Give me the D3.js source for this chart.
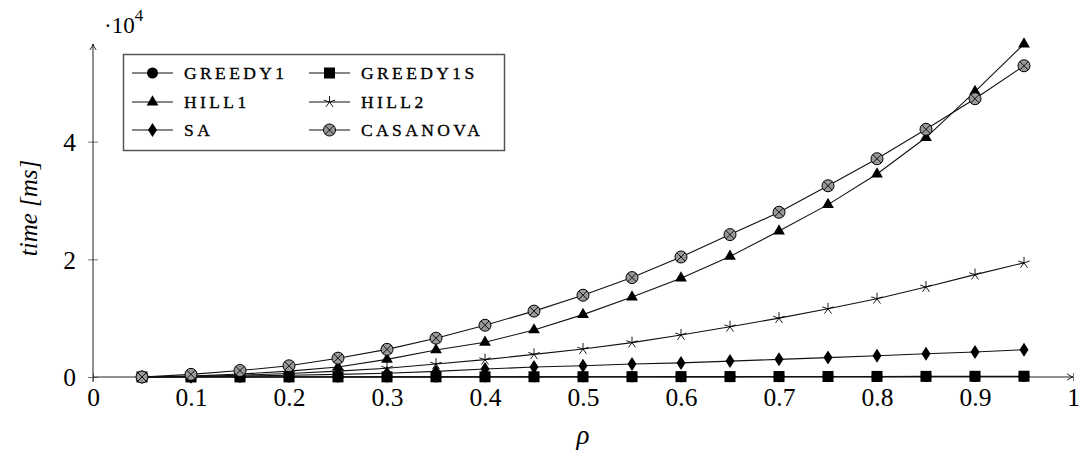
<!DOCTYPE html>
<html>
<head>
<meta charset="utf-8">
<script src="https://cdn.jsdelivr.net/npm/d3@7"></script>
<style>
  body { margin: 0; background: #fff; }
  svg text { font-family: "Liberation Serif", serif; }
  .tick text { font-size: 25.5px; fill: #000; }
  .legend-text { font-size: 17.5px; letter-spacing: 3.4px; stroke: #000; stroke-width: 0.35px; }
</style>
</head>
<body>
<div id="chart"></div>
<script>
// rho values (x) and running times in ms for each algorithm
const rho = [0.05, 0.1, 0.15, 0.2, 0.25, 0.3, 0.35, 0.4, 0.45, 0.5,
             0.55, 0.6, 0.65, 0.7, 0.75, 0.8, 0.85, 0.9, 0.95];

const greedy1  = [2, 4, 6, 9, 12, 15, 19, 23, 28, 33, 38, 44, 50, 56, 63, 70, 78, 86, 95];
const greedy1s = [3, 6, 9, 13, 17, 22, 27, 33, 39, 46, 53, 61, 69, 78, 87, 97, 107, 118, 130];
const hill1    = [0, 150, 500, 1000, 1700, 3000, 4600, 5900, 8000, 10600,
                  13600, 16800, 20500, 24800, 29300, 34500, 40700, 48500, 56600];
const hill2    = [0, 100, 300, 600, 1000, 1500, 2200, 2950, 3850, 4750,
                  5850, 7150, 8550, 10000, 11600, 13300, 15300, 17400, 19400];
const sa       = [0, 50, 150, 300, 450, 650, 950, 1350, 1700, 1900,
                  2200, 2400, 2700, 3000, 3300, 3600, 3950, 4250, 4650];
const casanova = [0, 450, 1100, 1900, 3200, 4700, 6600, 8800, 11200, 13900,
                  16900, 20400, 24200, 28000, 32500, 37100, 42100, 47300, 52900];

const seriesNames = ["GREEDY1", "GREEDY1S", "HILL1", "HILL2", "SA", "CASANOVA"];
const seriesValues = [greedy1, greedy1s, hill1, hill2, sa, casanova];
const seriesMarks = ["circle", "square", "triangle", "star", "diamond", "otimes"];

const xTicks = [0, 0.1, 0.2, 0.3, 0.4, 0.5, 0.6, 0.7, 0.8, 0.9, 1];
const yTicks = [0, 20000, 40000];

const width = 1083, height = 459;
const serif = "'Liberation Serif', serif";

const svg = d3.select("#chart").append("svg")
  .attr("width", width)
  .attr("height", height);

const x = d3.scaleLinear().domain([0, 1]).range([93, 1073]);
const yMax = d3.max(seriesValues.flat());
const y = d3.scaleLinear().domain([0, yMax]).range([377, 44]);

// axes (ticks + labels from d3, axis lines drawn separately with arrows)
const xAxis = d3.axisBottom(x).tickValues(xTicks)
  .tickFormat(d => d3.format("~g")(d)).tickSize(5).tickPadding(4);
const yAxis = d3.axisLeft(y).tickValues(yTicks)
  .tickFormat(d => d / 1e4).tickSize(5).tickPadding(10);

const gx = svg.append("g").attr("transform", "translate(0," + y(0) + ")").call(xAxis)
  .attr("font-family", serif);
gx.select(".domain").remove();
gx.selectAll(".tick line").attr("y1", -4).attr("y2", 4).attr("stroke", "#777");
gx.selectAll(".tick text").attr("y", 11).attr("dy", "0.71em");

const gy = svg.append("g").attr("transform", "translate(" + x(0) + ",0)").call(yAxis)
  .attr("font-family", serif);
gy.select(".domain").remove();
gy.selectAll(".tick line").attr("x1", -5).attr("x2", 5).attr("stroke", "#777");
gy.selectAll(".tick text").attr("x", -17).attr("dy", "0.35em");

// axis lines with arrows
function arrowHead(px, py, angle) {
  svg.append("path")
    .attr("d", "M-6,-3.2 Q-2.5,-0.5 0,0 Q-2.5,0.5 -6,3.2")
    .attr("fill", "none").attr("stroke", "#222").attr("stroke-width", 1)
    .attr("transform", "translate(" + px + "," + py + ") rotate(" + angle + ")");
}
svg.append("line")
  .attr("x1", x(0)).attr("x2", x(1)).attr("y1", y(0)).attr("y2", y(0))
  .attr("stroke", "#222").attr("stroke-width", 1);
arrowHead(x(1), y(0), 0);
svg.append("line")
  .attr("x1", x(0)).attr("x2", x(0)).attr("y1", y(0) + 5).attr("y2", y(yMax))
  .attr("stroke", "#222").attr("stroke-width", 1);
arrowHead(x(0), y(yMax), -90);

// scale label ·10^4
const scaleLabel = svg.append("text").attr("x", 104).attr("y", 33)
  .style("font-size", "23px");
scaleLabel.append("tspan").text("·10");
scaleLabel.append("tspan").attr("dy", -12).style("font-size", "17px").text("4");

// axis titles
svg.append("text")
  .attr("transform", "translate(37,208) rotate(-90)")
  .attr("text-anchor", "middle")
  .style("font-size", "25px")
  .style("font-style", "italic")
  .text("time [ms]");

svg.append("text")
  .attr("x", x(0.5)).attr("y", 444)
  .attr("text-anchor", "middle")
  .style("font-size", "27px")
  .style("font-style", "italic")
  .text("ρ");

// marker drawing
function drawMark(g, kind) {
  if (kind === "circle") {
    g.append("circle").attr("r", 5.5).attr("fill", "#000");
  } else if (kind === "square") {
    g.append("rect").attr("x", -5.5).attr("y", -5.5).attr("width", 11).attr("height", 11)
      .attr("fill", "#000");
  } else if (kind === "triangle") {
    const r = 6.8;
    g.append("path")
      .attr("d", "M0," + (-r) + "L" + (0.866 * r) + "," + (0.5 * r) + "L" + (-0.866 * r) + "," + (0.5 * r) + "Z")
      .attr("fill", "#000");
  } else if (kind === "star") {
    let d = "";
    for (let i = 0; i < 5; i++) {
      const a = -Math.PI / 2 + i * 2 * Math.PI / 5;
      d += "M0,0L" + (6 * Math.cos(a)).toFixed(2) + "," + (6 * Math.sin(a)).toFixed(2);
    }
    g.append("path").attr("d", d).attr("stroke", "#000").attr("stroke-width", 0.9).attr("fill", "none");
  } else if (kind === "diamond") {
    g.append("path").attr("d", "M0,-7L4.5,0L0,7L-4.5,0Z").attr("fill", "#000");
  } else if (kind === "otimes") {
    g.append("circle").attr("r", 6).attr("fill", "#999").attr("stroke", "#000").attr("stroke-width", 1);
    const c = 6 * Math.SQRT1_2;
    g.append("path")
      .attr("d", "M" + (-c) + "," + (-c) + "L" + c + "," + c + "M" + (-c) + "," + c + "L" + c + "," + (-c))
      .attr("stroke", "#000").attr("stroke-width", 0.9);
  }
}

const line = d3.line().x((d, i) => x(rho[i])).y(d => y(d));

seriesValues.forEach(function (vals, k) {
  svg.append("path")
    .datum(vals)
    .attr("d", line)
    .attr("fill", "none")
    .attr("stroke", "#111")
    .attr("stroke-width", 1.1);

  svg.append("g").selectAll("g")
    .data(vals)
    .join("g")
    .attr("transform", (d, i) => "translate(" + x(rho[i]) + "," + y(d) + ")")
    .each(function () { drawMark(d3.select(this), seriesMarks[k]); });
});

// legend
const legend = svg.append("g").attr("class", "legend");
legend.append("rect")
  .attr("x", 123.5).attr("y", 54.5).attr("width", 381).attr("height", 96)
  .attr("fill", "#fff").attr("stroke", "#555").attr("stroke-width", 1.5);

const colX = [132, 309];
const rowY = [73, 102, 130];

seriesNames.forEach(function (name, k) {
  const lx = colX[k % 2], ly = rowY[Math.floor(k / 2)];
  legend.append("line")
    .attr("x1", lx).attr("x2", lx + 41).attr("y1", ly).attr("y2", ly)
    .attr("stroke", "#111").attr("stroke-width", 1.1);
  drawMark(legend.append("g").attr("transform", "translate(" + (lx + 20.5) + "," + ly + ")"), seriesMarks[k]);
  legend.append("text")
    .attr("class", "legend-text")
    .attr("x", lx + 52).attr("y", ly + 6)
    .text(name);
});
</script>
</body>
</html>
